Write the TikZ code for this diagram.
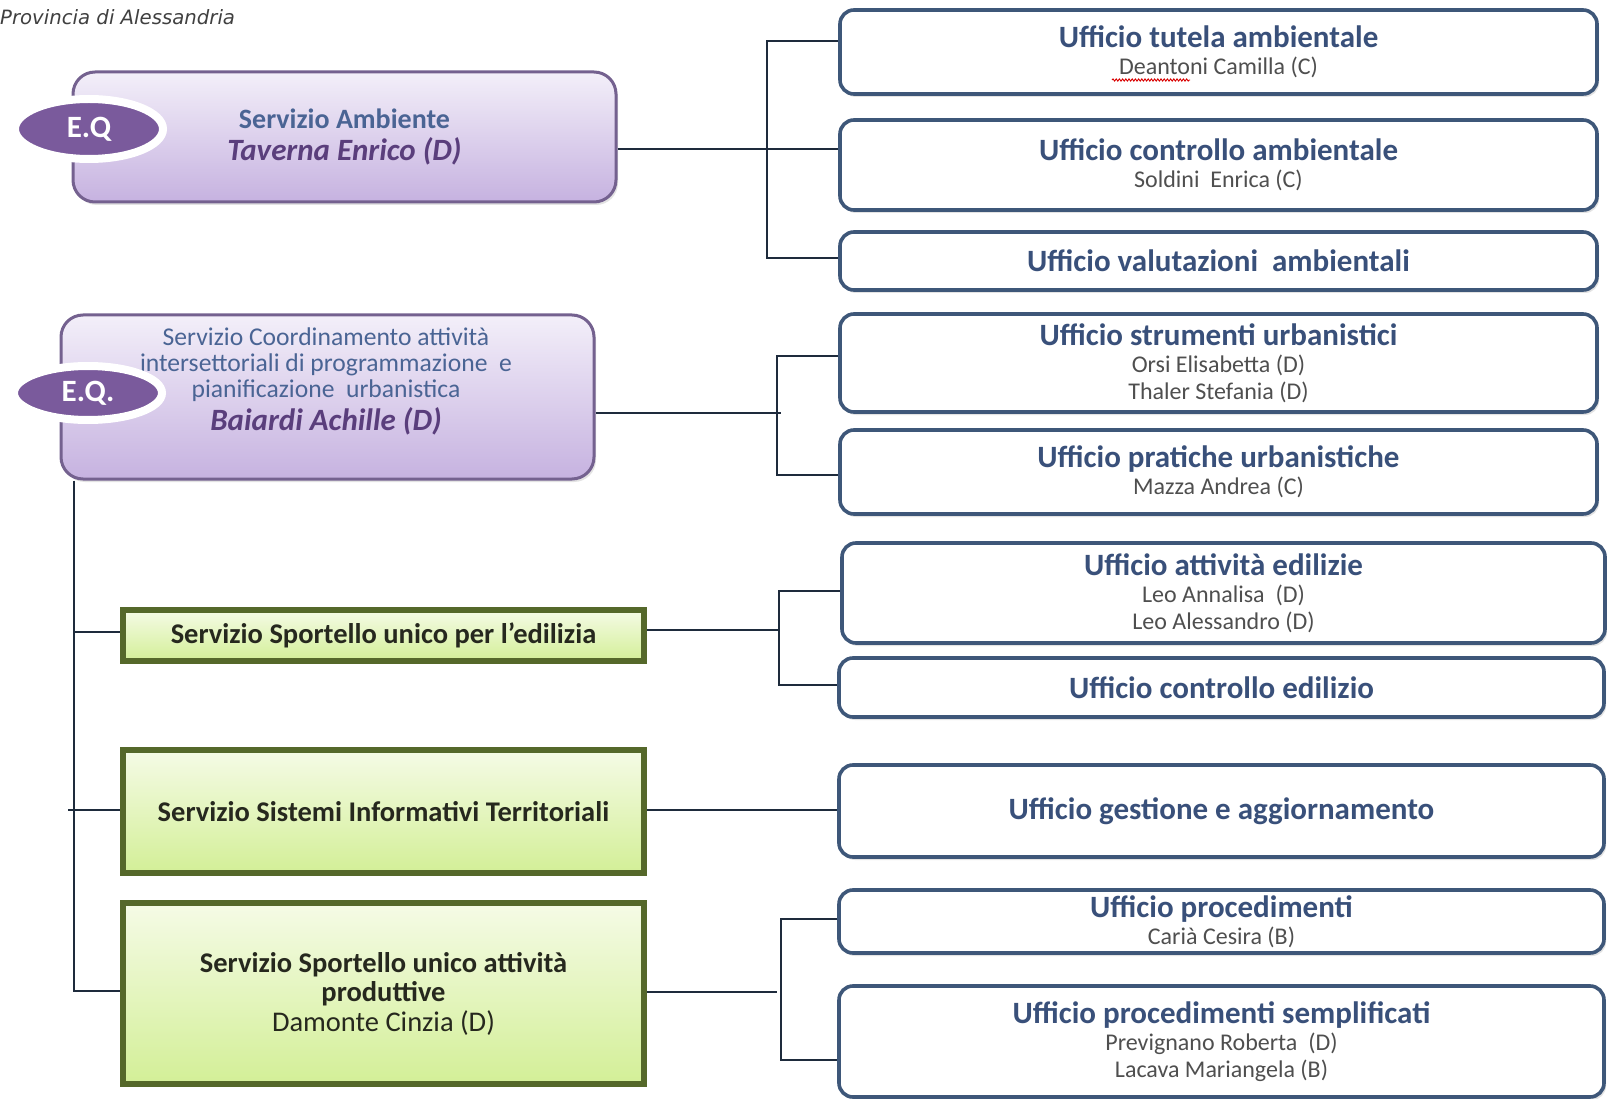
\documentclass[tikz,border=0pt]{standalone}
\usepackage{fontspec}
\setmainfont{Carlito}
\newfontfamily\provfont{DejaVu Sans}
\usetikzlibrary{shadows,shapes.geometric,decorations.pathmorphing}
\definecolor{ubord}{HTML}{3E5779}
\definecolor{utitle}{HTML}{39507A}
\definecolor{usub}{HTML}{4F4F4F}
\definecolor{pbord}{HTML}{74618F}
\definecolor{ptop}{HTML}{F3EFF9}
\definecolor{pbot}{HTML}{C6B2E0}
\definecolor{eqfill}{HTML}{7A5A9C}
\definecolor{gbord}{HTML}{55682A}
\definecolor{gtop}{HTML}{F5FBE6}
\definecolor{gbot}{HTML}{D3EF97}
\definecolor{linec}{HTML}{1E2B3C}
\definecolor{ptext}{HTML}{4A6494}
\definecolor{pname}{HTML}{5A3E7C}
\definecolor{gtext}{HTML}{26281E}
\newcommand\uti[1]{{\fontsize{31}{27}\selectfont\bfseries\color{utitle}#1}}
\tikzset{
  myshadow/.style={drop shadow={opacity=0.22, shadow xshift=2pt, shadow yshift=-3pt}},
  ufficio/.style={draw=ubord, line width=3.6pt, rounded corners=14pt, fill=white,
    align=center, myshadow, font=\fontsize{24}{27}\selectfont, text=usub, inner sep=0pt},
  servp/.style={draw=pbord, line width=3pt, rounded corners=22pt, top color=ptop,
    bottom color=pbot, myshadow, align=center, inner sep=0pt},
  servg/.style={draw=gbord, line width=5.5pt, top color=gtop, bottom color=gbot,
    myshadow, align=center, inner sep=0pt, text=gtext,
    font=\bfseries\fontsize{28.5}{29.5}\selectfont},
  eqnode/.style={ellipse, draw=white, line width=8pt, fill=eqfill, text=white,
    font=\bfseries\fontsize{31}{31}\selectfont,
    drop shadow={opacity=0.3, shadow xshift=1pt, shadow yshift=-2pt},
    minimum width=148pt, minimum height=60pt, inner sep=0pt},
  conn/.style={draw=linec, line width=2.8pt},
  spell/.style={draw=red!85!black, line width=0.9pt, decorate,
    decoration={snake, amplitude=1.1pt, segment length=3.2pt}},
}
\begin{document}
\begin{tikzpicture}[x=1pt,y=-1pt]
\useasboundingbox (0,0) rectangle (1607,1099);
\fill[white] (0,0) rectangle (1607,1099);

\node[anchor=west, inner sep=0pt, font=\provfont\itshape\fontsize{19.7}{22}\selectfont, text=black!75] (prov) at (0,17) {Provincia di Alessandria};

% right column boxes
\node[ufficio, minimum width=757pt, minimum height=84pt] (u1) at (1218.5,52) {\uti{Ufficio tutela ambientale}\\Deantoni Camilla (C)};
\node[ufficio, minimum width=757pt, minimum height=90pt] (u2) at (1218.5,165) {\uti{Ufficio controllo ambientale}\\Soldini\ \ Enrica (C)};
\node[ufficio, minimum width=757pt, minimum height=58pt] (u3) at (1218.5,261) {\uti{Ufficio valutazioni\ \ ambientali}};
\node[ufficio, minimum width=757pt, minimum height=98pt] (u4) at (1218.5,363) {\uti{Ufficio strumenti urbanistici}\\Orsi Elisabetta (D)\\Thaler Stefania (D)};
\node[ufficio, minimum width=757pt, minimum height=84pt] (u5) at (1218.5,472) {\uti{Ufficio pratiche urbanistiche}\\Mazza Andrea (C)};
\node[ufficio, minimum width=763pt, minimum height=100pt] (u6) at (1223.5,593) {\uti{Ufficio attività edilizie}\\Leo Annalisa\ \ (D)\\Leo Alessandro (D)};
\node[ufficio, minimum width=765pt, minimum height=59pt] (u7) at (1221.5,687.5) {\uti{Ufficio controllo edilizio}};
\node[ufficio, minimum width=765pt, minimum height=92pt] (u8) at (1221.5,811) {\uti{Ufficio gestione e aggiornamento}};
\node[ufficio, minimum width=765pt, minimum height=63pt] (u9) at (1221.5,921.5) {\uti{Ufficio procedimenti}\\Carià Cesira (B)};
\node[ufficio, minimum width=765pt, minimum height=111pt] (u10) at (1221.5,1041.5) {\uti{Ufficio procedimenti semplificati}\\Prevignano Roberta\ \ (D)\\Lacava Mariangela (B)};

% spell-check underline under "Deantoni"
\coordinate (sp1) at (1112,80);
\coordinate (sp2) at (1190,80);
\draw[spell] (sp1) -- (sp2);

% purple boxes
\node[servp, minimum width=543pt, minimum height=130pt, font=\fontsize{28}{32}\selectfont] (amb) at (344.5,137)
  {{\bfseries\color{ptext}Servizio Ambiente}\\{\fontsize{31}{32}\selectfont\bfseries\itshape\color{pname}Taverna Enrico (D)}};
\node[servp, minimum width=533pt, minimum height=164pt] (coord) at (327.5,397) {};
\node[align=center, inner sep=0pt, text=ptext, font=\fontsize{25.6}{26}\selectfont] (coordtxt) at (326,381)
  {Servizio Coordinamento attività\\intersettoriali di programmazione\ \ e\\pianificazione\ \ urbanistica\\[5pt]{\fontsize{31}{26}\selectfont\bfseries\itshape\color{pname}Baiardi Achille (D)}};
\node[eqnode] (eq1) at (89,129) {E.Q};
\node[eqnode, minimum height=54pt] (eq2) at (88,393) {E.Q.};

% green boxes
\node[servg, minimum width=521pt, minimum height=51pt] (sue) at (383.5,635.5) {Servizio Sportello unico per l’edilizia};
\node[servg, minimum width=521pt, minimum height=123pt] (sit) at (383.5,811.5) {Servizio Sistemi Informativi Territoriali};
\node[servg, minimum width=521pt, minimum height=181pt] (suap) at (383.5,993.5) {Servizio Sportello unico attività\\produttive\\{\mdseries Damonte Cinzia (D)}};

% connectors: Ambiente
\coordinate (t1) at (767,41);
\coordinate (t3) at (767,258);
\coordinate (j1) at (767,149);
\draw[conn] (u1.west |- t1) -- (t1) -- (t3) -- (u3.west |- t3);
\draw[conn] (amb.east |- j1) -- (u2.west |- j1);

% Coordinamento
\coordinate (t4) at (777,356);
\coordinate (t5) at (777,475);
\coordinate (j2) at (781,413);
\draw[conn] (u4.west |- t4) -- (t4) -- (t5) -- (u5.west |- t5);
\draw[conn] (coord.east |- j2) -- (j2);

% trunk
\coordinate (k1) at (74,991);
\coordinate (k2) at (74,632);
\coordinate (k3) at (68,810);
\draw[conn] (coord.south -| k1) -- (k1) -- (suap.west |- k1);
\draw[conn] (k2) -- (sue.west |- k2);
\draw[conn] (k3) -- (sit.west |- k3);

% Sportello edilizia
\coordinate (t6) at (779,591);
\coordinate (t7) at (779,685);
\coordinate (j3) at (779,630);
\draw[conn] (u6.west |- t6) -- (t6) -- (t7) -- (u7.west |- t7);
\draw[conn] (sue.east |- j3) -- (j3);

% SIT
\coordinate (j4) at (700,810);
\draw[conn] (sit.east |- j4) -- (u8.west |- j4);

% SUAP
\coordinate (t9) at (781,919);
\coordinate (t10) at (781,1060);
\coordinate (j5) at (777,992);
\draw[conn] (u9.west |- t9) -- (t9) -- (t10) -- (u10.west |- t10);
\draw[conn] (suap.east |- j5) -- (j5);
\end{tikzpicture}
\end{document}
